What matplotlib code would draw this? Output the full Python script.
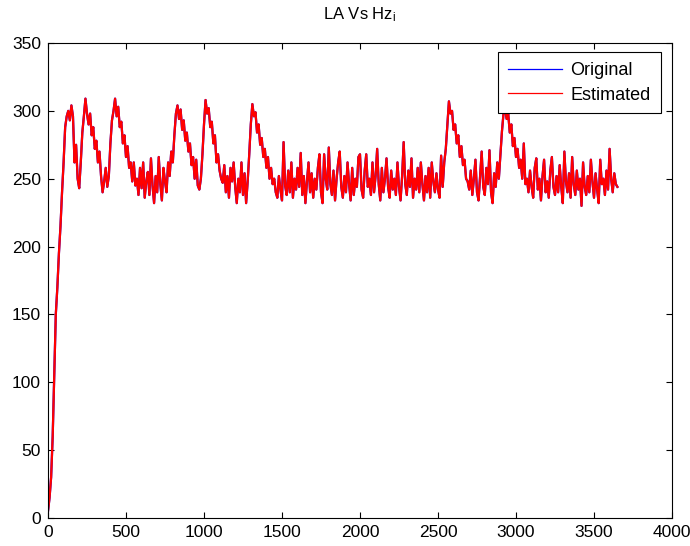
import numpy as np
import matplotlib
matplotlib.use("Agg")
import matplotlib.pyplot as plt

plt.rcParams['font.family'] = ['Liberation Sans', 'DejaVu Sans']
plt.rcParams['mathtext.fontset'] = 'custom'
plt.rcParams['mathtext.rm'] = 'Liberation Sans'
plt.rcParams['mathtext.it'] = 'Liberation Sans'

step = 10
estimated = [
    5, 15, 30, 60, 105, 150, 170, 195, 215, 240,
    262, 288, 296, 300, 293, 304, 296, 262, 275, 250,
    243, 262, 284, 296, 309, 298, 290, 298, 282, 288,
    272, 278, 262, 270, 252, 240, 248, 258, 244, 252,
    276, 293, 300, 309, 296, 303, 288, 292, 276, 282,
    266, 274, 258, 262, 248, 262, 245, 250, 238, 258,
    243, 262, 236, 248, 255, 238, 265, 245, 232, 252,
    240, 266, 246, 234, 258, 248, 240, 262, 252, 270,
    262, 282, 298, 304, 294, 301, 286, 293, 278, 284,
    270, 276, 260, 266, 250, 264, 245, 242, 250, 268,
    290, 308, 298, 302, 288, 292, 276, 282, 262, 268,
    256, 250, 247, 260, 240, 252, 236, 258, 248, 262,
    244, 232, 250, 240, 262, 238, 254, 232, 248, 268,
    290, 305, 296, 299, 284, 290, 275, 280, 266, 272,
    258, 266, 250, 258, 246, 250, 240, 236, 252, 242,
    234, 277, 245, 238, 256, 240, 262, 236, 250, 242,
    258, 244, 269, 238, 252, 232, 248, 262, 240, 254,
    236, 250, 242, 258, 268, 240, 232, 268, 250, 242,
    273, 246, 238, 256, 234, 250, 262, 270, 244, 236,
    252, 240, 262, 246, 234, 258, 238, 250, 244, 266,
    268, 242, 236, 256, 268, 244, 250, 238, 262, 240,
    252, 272, 246, 234, 258, 240, 250, 265, 244, 236,
    256, 242, 250, 238, 262, 244, 234, 252, 277, 246,
    238, 256, 244, 265, 236, 250, 242, 258, 240, 262,
    246, 234, 252, 240, 258, 236, 262, 248, 240, 254,
    242, 236, 267, 244, 262, 272, 290, 307, 298, 300,
    286, 290, 276, 282, 266, 274, 260, 264, 250, 248,
    242, 256, 238, 250, 264, 240, 234, 252, 270, 244,
    238, 258, 246, 271, 240, 232, 254, 244, 262, 250,
    268, 285, 298, 302, 294, 298, 284, 290, 274, 280,
    266, 272, 258, 264, 250, 276, 246, 250, 240, 256,
    244, 236, 258, 265, 242, 250, 234, 252, 264, 240,
    248, 236, 256, 266, 244, 238, 252, 240, 260, 244,
    232, 270, 248, 240, 254, 236, 266, 246, 238, 256,
    242, 250, 230, 262, 244, 238, 252, 240, 264, 248,
    236, 254, 242, 232, 264, 246, 250, 238, 256, 242,
    272, 250, 240, 254, 246, 244,
]
original = list(estimated)
samples = np.arange(len(estimated)) * step

xticks = [0, 500, 1000, 1500, 2000, 2500, 3000, 3500, 4000]
yticks = [0, 50, 100, 150, 200, 250, 300, 350]

fig = plt.figure(figsize=(6.9, 5.46), dpi=100)
ax = fig.add_axes([48/690, 28/546, 624/690, 475/546])

ax.plot(samples, original, color='#0000ff', lw=1.6, label='Original')
ax.plot(samples, estimated, color='#ff0000', lw=1.6, label='Estimated')

ax.set_xlim(0, 4000)
ax.set_ylim(0, 350)
ax.set_xticks(xticks)
ax.set_yticks(yticks)
ax.tick_params(direction='in', top=True, right=True, length=4, width=0.8,
               labelsize=12.5, pad=5)
for s in ax.spines.values():
    s.set_linewidth(0.8)

ax.set_title('LA Vs Hz$_\\mathrm{i}$', fontsize=12, pad=17)

leg = ax.legend(loc='upper right', bbox_to_anchor=(0.982, 0.981), borderaxespad=0,
                fontsize=13, fancybox=False, framealpha=1, edgecolor='black',
                handlelength=3, handletextpad=0.45, labelspacing=0.42,
                borderpad=0.55)
leg.get_frame().set_linewidth(0.8)
for l in leg.get_lines():
    l.set_linewidth(0.9)

fig.savefig('out.png', dpi=100)
